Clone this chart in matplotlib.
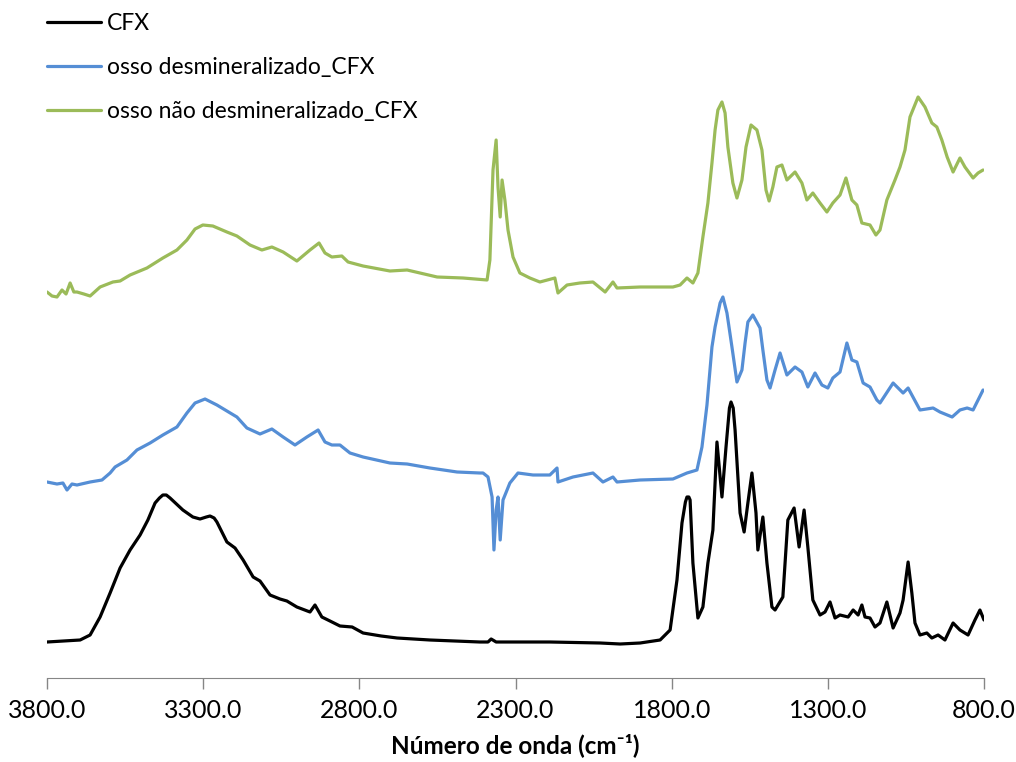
import numpy as np
import matplotlib.pyplot as plt

plt.rcParams['font.family'] = ['Lato', 'DejaVu Sans']

# FTIR spectra (wavenumber in cm-1, offset absorbance in arbitrary units)
wn_cfx = [3800, 3694, 3662, 3630, 3598, 3566, 3534, 3502, 3477, 3454, 3440, 3429, 3418, 3406,
          3365, 3333, 3310, 3290, 3278, 3265, 3256, 3224, 3198, 3172, 3140, 3118, 3086, 3054,
          3032, 3000, 2958, 2942, 2920, 2894, 2862, 2823, 2788, 2730, 2679, 2574, 2414,
          2388, 2378, 2362, 2190, 2029, 1965, 1901, 1837, 1805, 1783, 1767, 1756, 1751,
          1745, 1741, 1732, 1716, 1700, 1684, 1668, 1655, 1639, 1626, 1615, 1610, 1603, 1597, 1581,
          1568, 1556, 1543, 1530, 1524, 1508, 1495, 1479, 1469, 1444, 1428, 1408,
          1392, 1376, 1364, 1348, 1325, 1309, 1293, 1277, 1261, 1235, 1219, 1203,
          1191, 1181, 1165, 1149, 1133, 1111, 1091, 1069, 1059, 1043, 1031, 1021,
          1005, 983, 967, 947, 925, 899, 877, 851, 829, 813, 800]
abs_cfx = [0.36, 0.38, 0.43, 0.61, 0.85, 1.10, 1.28, 1.43, 1.58, 1.75, 1.80, 1.83, 1.83, 1.80,
           1.68, 1.61, 1.59, 1.61, 1.62, 1.60, 1.56, 1.36, 1.30, 1.18, 1.01, 0.97, 0.83, 0.79,
           0.77, 0.71, 0.66, 0.73, 0.61, 0.57, 0.52, 0.51, 0.45, 0.42, 0.40, 0.38, 0.36,
           0.36, 0.39, 0.36, 0.36, 0.35, 0.34, 0.35, 0.38, 0.48, 0.98, 1.55, 1.76, 1.81,
           1.81, 1.78, 1.15, 0.60, 0.71, 1.15, 1.48, 2.36, 1.81, 2.31, 2.70, 2.76, 2.70, 2.48, 1.65,
           1.46, 1.75, 2.05, 1.65, 1.28, 1.61, 1.15, 0.71, 0.68, 0.81, 1.58, 1.70,
           1.31, 1.68, 1.31, 0.78, 0.63, 0.66, 0.76, 0.60, 0.63, 0.61, 0.68, 0.63,
           0.73, 0.61, 0.60, 0.51, 0.55, 0.76, 0.50, 0.65, 0.78, 1.16, 0.85, 0.55,
           0.43, 0.45, 0.40, 0.43, 0.38, 0.55, 0.48, 0.43, 0.58, 0.68, 0.58]

wn_desm = [3800, 3768, 3749, 3736, 3720, 3704, 3662, 3624, 3598, 3582, 3544, 3512,
           3470, 3429, 3384, 3352, 3326, 3294, 3256, 3224, 3192, 3160, 3118, 3080,
           3044, 3006, 2968, 2932, 2910, 2888, 2862, 2830, 2788, 2702, 2647, 2574,
           2487, 2414, 2404, 2388, 2375, 2369, 2362, 2356, 2349, 2340, 2318, 2292,
           2244, 2190, 2167, 2164, 2116, 2052, 2020, 1988, 1975, 1901, 1796, 1751,
           1719, 1703, 1687, 1671, 1661, 1645, 1636, 1623, 1607, 1591, 1575, 1565,
           1556, 1540, 1517, 1508, 1495, 1485, 1469, 1453, 1431, 1405, 1383, 1364,
           1341, 1319, 1300, 1284, 1261, 1239, 1223, 1207, 1187, 1165, 1143, 1133,
           1091, 1059, 1043, 1005, 963, 941, 902, 877, 854, 835, 819, 803]
abs_desm = [1.96, 1.94, 1.95, 1.88, 1.94, 1.93, 1.96, 1.98, 2.05, 2.11, 2.18, 2.28,
            2.35, 2.43, 2.51, 2.65, 2.75, 2.79, 2.73, 2.67, 2.61, 2.50, 2.44, 2.49,
            2.41, 2.33, 2.41, 2.48, 2.36, 2.33, 2.33, 2.25, 2.21, 2.15, 2.14, 2.10,
            2.06, 2.05, 2.05, 2.01, 1.81, 1.28, 1.68, 1.81, 1.38, 1.78, 1.95, 2.05,
            2.03, 2.03, 2.10, 1.96, 2.01, 2.05, 1.96, 2.01, 1.96, 1.98, 1.99, 2.05,
            2.08, 2.31, 2.73, 3.31, 3.51, 3.75, 3.81, 3.65, 3.31, 2.96, 3.08, 3.35,
            3.56, 3.63, 3.50, 3.28, 2.98, 2.90, 3.08, 3.25, 3.03, 3.11, 3.06, 2.91,
            3.05, 2.93, 2.90, 3.00, 3.06, 3.35, 3.18, 3.16, 2.95, 2.91, 2.78, 2.75,
            2.95, 2.85, 2.90, 2.68, 2.70, 2.66, 2.61, 2.68, 2.70, 2.68, 2.78, 2.88]

wn_nao = [3800, 3784, 3768, 3752, 3739, 3726, 3714, 3704, 3682, 3662, 3630, 3589,
          3566, 3534, 3480, 3429, 3384, 3352, 3326, 3301, 3269, 3224, 3192, 3150,
          3112, 3080, 3044, 3000, 2958, 2929, 2910, 2888, 2856, 2836, 2788, 2702,
          2647, 2551, 2468, 2391, 2382, 2372, 2362, 2356, 2349, 2343, 2334, 2324,
          2308, 2286, 2254, 2222, 2174, 2164, 2135, 2094, 2052, 2013, 1988, 1975,
          1901, 1796, 1773, 1751, 1732, 1716, 1700, 1684, 1671, 1661, 1652, 1639,
          1629, 1620, 1604, 1591, 1575, 1562, 1546, 1527, 1511, 1498, 1488, 1476,
          1463, 1447, 1431, 1405, 1383, 1367, 1348, 1325, 1303, 1284, 1261, 1242,
          1223, 1207, 1191, 1165, 1146, 1133, 1111, 1085, 1069, 1053, 1037, 1011,
          989, 967, 951, 935, 918, 899, 877, 861, 835, 819, 803]
abs_nao = [3.86, 3.82, 3.81, 3.88, 3.84, 3.95, 3.86, 3.86, 3.84, 3.82, 3.91, 3.96,
           3.97, 4.03, 4.10, 4.20, 4.28, 4.38, 4.49, 4.53, 4.52, 4.46, 4.42, 4.33,
           4.28, 4.31, 4.26, 4.17, 4.28, 4.35, 4.25, 4.21, 4.22, 4.16, 4.12, 4.07,
           4.08, 4.01, 4.00, 3.98, 4.18, 5.08, 5.38, 4.91, 4.61, 4.98, 4.78, 4.48,
           4.21, 4.05, 4.00, 3.96, 4.00, 3.85, 3.93, 3.95, 3.96, 3.86, 3.96, 3.90,
           3.91, 3.91, 3.93, 4.00, 3.95, 4.05, 4.41, 4.75, 5.15, 5.48, 5.68, 5.76,
           5.65, 5.31, 4.95, 4.80, 4.98, 5.31, 5.53, 5.48, 5.28, 4.88, 4.77, 4.91,
           5.11, 5.13, 4.98, 5.06, 4.95, 4.78, 4.85, 4.75, 4.66, 4.75, 4.83, 5.00,
           4.78, 4.73, 4.55, 4.53, 4.43, 4.48, 4.78, 4.98, 5.11, 5.28, 5.61, 5.81,
           5.71, 5.55, 5.51, 5.38, 5.21, 5.06, 5.20, 5.11, 5.00, 5.05, 5.08]

series = [
    ('CFX', wn_cfx, abs_cfx, '#000000'),
    ('osso desmineralizado_CFX', wn_desm, abs_desm, '#558ED5'),
    ('osso não desmineralizado_CFX', wn_nao, abs_nao, '#9BBB59'),
]
x_ticks = [3800, 3300, 2800, 2300, 1800, 1300, 800]

fig = plt.figure(figsize=(10.16, 7.62), dpi=100)
ax = fig.add_axes([47 / 1016, 84 / 762, 937 / 1016, 678 / 762])

for name, wn, ab, color in series:
    ax.plot(wn, ab, color=color, lw=2.3, label=name,
            solid_joinstyle='round', solid_capstyle='round')

ax.set_xlim(3800, 800)
ax.set_ylim(0, 6.78)
ax.set_xticks(x_ticks)
ax.set_xticklabels([f'{t:.1f}' for t in x_ticks], fontsize=18)
ax.tick_params(axis='x', direction='out', length=8, width=1, color='#868686', pad=7)
ax.set_yticks([])
for side in ['top', 'right', 'left']:
    ax.spines[side].set_visible(False)
ax.spines['bottom'].set_color('#868686')
ax.set_xlabel('Número de onda (cm⁻¹)', fontsize=17.5, fontweight='bold', labelpad=8)

fig.legend(loc='upper left', bbox_to_anchor=(47 / 1016, 1 - 13 / 762), frameon=False,
           fontsize=16.5, handlelength=2.35, handletextpad=0.28, labelspacing=1.0,
           borderpad=0, borderaxespad=0)

fig.savefig('out.png', dpi=100)
